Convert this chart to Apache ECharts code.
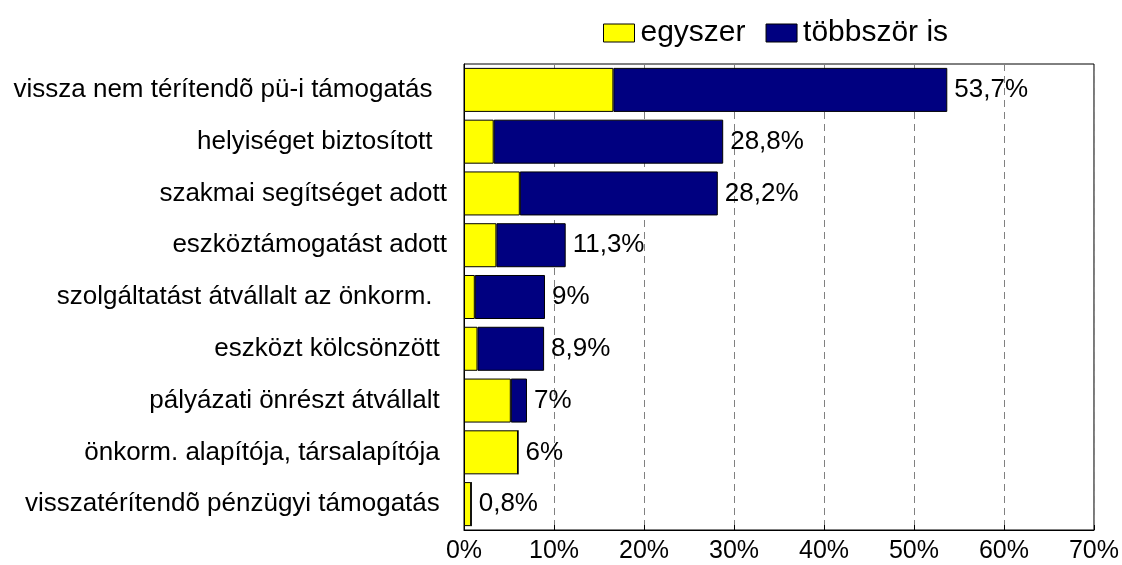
<!DOCTYPE html>
<html>
<head>
<meta charset="utf-8">
<script src="https://cdn.jsdelivr.net/npm/echarts@6/dist/echarts.min.js"></script>
<style>
  html, body { margin: 0; padding: 0; background: #fff; }
  #chart { width: 1122px; height: 565px; }
</style>
</head>
<body>
<div id="chart"></div>
<script>
// Categories, top to bottom (trailing spaces keep the original label alignment)
const categories = [
  'vissza nem térítendõ pü-i támogatás  ',
  'helyiséget biztosított  ',
  'szakmai segítséget adott',
  'eszköztámogatást adott',
  'szolgáltatást átvállalt az önkorm.  ',
  'eszközt kölcsönzött ',
  'pályázati önrészt átvállalt ',
  'önkorm. alapítója, társalapítója ',
  'visszatérítendõ pénzügyi támogatás '
];
// Share of respondents (%)
const egyszer   = [16.6, 3.3, 6.2, 3.6, 1.2, 1.5, 5.2, 6.0, 0.8];
const tobbszor  = [37.1, 25.5, 22.0, 7.7, 7.8, 7.4, 1.8, 0, 0];
const seriesNames = ['egyszer', 'többször is'];
const xTicks = [0, 10, 20, 30, 40, 50, 60, 70];

const FONT = "'Liberation Sans', Arial, sans-serif";

function totalLabel(i) {
  const v = (egyszer[i] + tobbszor[i]).toFixed(1).replace(/\.0$/, '').replace('.', ',');
  return v + '%';
}

const chart = echarts.init(document.getElementById('chart'), null, { renderer: 'canvas' });
chart.setOption({
  animation: false,
  backgroundColor: '#ffffff',
  textStyle: { fontFamily: FONT },
  legend: {
    data: seriesNames,
    icon: 'rect',
    top: 13,
    left: 598,
    itemWidth: 31,
    itemHeight: 18,
    itemGap: 20,
    textStyle: { fontFamily: FONT, fontSize: 30, color: '#000', padding: [0, 0, 0, 1] },
    itemStyle: { borderColor: '#000', borderWidth: 1 }
  },
  grid: {
    left: 464,
    right: 28,
    top: 64,
    bottom: 35,
    show: true,
    borderColor: '#000',
    borderWidth: 1,
    backgroundColor: 'transparent'
  },
  xAxis: {
    type: 'value',
    min: xTicks[0],
    max: xTicks[xTicks.length - 1],
    interval: 10,
    axisLine: { show: true, lineStyle: { color: '#000', width: 1 } },
    axisTick: { show: true, inside: true, length: 5, lineStyle: { color: '#000' } },
    axisLabel: {
      fontFamily: FONT, fontSize: 25, color: '#000', margin: 9,
      formatter: v => v + '%'
    },
    splitLine: {
      show: true,
      lineStyle: { color: '#808080', type: [7, 5], width: 1 }
    }
  },
  yAxis: {
    type: 'category',
    data: categories,
    inverse: true,
    axisLine: { show: true, lineStyle: { color: '#000', width: 1 } },
    axisTick: { show: false },
    axisLabel: { fontFamily: FONT, fontSize: 26, color: '#000', margin: 17 }
  },
  series: [
    {
      name: seriesNames[0],
      type: 'bar',
      stack: 'total',
      barCategoryGap: '15%',
      data: egyszer,
      itemStyle: { color: '#FFFF00', borderColor: '#000', borderWidth: 1 }
    },
    {
      name: seriesNames[1],
      type: 'bar',
      stack: 'total',
      barCategoryGap: '15%',
      data: tobbszor,
      itemStyle: { color: '#000080', borderColor: '#000', borderWidth: 1 },
      label: {
        show: true,
        position: 'right',
        distance: 7,
        fontFamily: FONT,
        fontSize: 26,
        color: '#000',
        formatter: p => totalLabel(p.dataIndex)
      }
    }
  ]
});
</script>
</body>
</html>
